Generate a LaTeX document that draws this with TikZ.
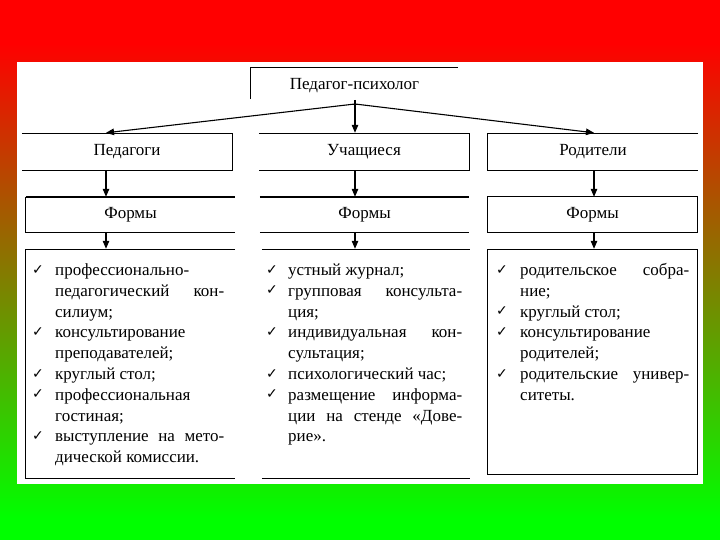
\documentclass[tikz,border=0pt]{standalone}
\usepackage{fontspec}
\setmainfont{Liberation Serif}
\newfontfamily\symfont{DejaVu Sans}
\usetikzlibrary{arrows.meta}
\pgfdeclareverticalshading{bgshade}{100bp}{color(0bp)=(green); color(27bp)=(green); color(71bp)=(red); color(100bp)=(red)}
\begin{document}
\begin{tikzpicture}[x=1pt,y=-1pt,
  ln/.style={font=\fontsize{17}{21}\selectfont, inner sep=0pt, anchor=base west},
  chk/.style={font=\symfont\fontsize{14}{16}\selectfont, inner sep=0pt, anchor=base},
  hd/.style={font=\fontsize{17}{21}\selectfont, inner sep=0pt, minimum height=36pt},
  edge/.style={line width=1.2pt},
  thk/.style={line width=2.2pt},
  arr/.style={line width=1.1pt, -{Triangle[length=8pt,width=6.5pt]}}]
\useasboundingbox (0,0) rectangle (720,540);
\shade[shading=bgshade] (0,0) rectangle (720,540);
\fill[white] (17,62) rectangle (703,484);

% top box
\node[hd, minimum width=207pt] (T) at (354.5,86) {Педагог-психолог};
\draw[edge] ([yshift=5pt]T.south west) -- (T.north west) -- (T.north east);

% row 2
\node[hd, minimum width=210pt] (P) at (127,152) {Педагоги};
\node[hd, minimum width=210pt] (U) at (364,152) {Учащиеся};
\node[hd, minimum width=210pt] (R) at (593,152) {Родители};
\draw[edge] (P.north west) -- (P.north east) -- (P.south east) -- (P.south west);
\draw[edge] (U.north west) -- (U.north east) -- (U.south east) -- (U.south west);
\draw[edge] (R.north east) -- (R.north west) -- (R.south west) -- (R.south east);

% row 3
\node[hd, minimum width=209pt, minimum height=35pt] (F1) at (130.5,214.5) {Формы};
\node[hd, minimum width=209pt, minimum height=35pt] (F2) at (364.5,214.5) {Формы};
\node[hd, minimum width=209pt, minimum height=35pt] (F3) at (592.5,214.5) {Формы};
\draw[thk] (F1.north west) -- (F1.north east);
\draw[edge] (F1.north west) -- (F1.south west) -- (F1.south east);
\draw[thk] (F2.north west) -- (F2.north east);
\draw[edge] (F2.south west) -- (F2.south east);
\draw[edge] (F3.north west) rectangle (F3.south east);

% row 4 frames
\node[minimum width=209pt, minimum height=228pt, inner sep=0pt] (L1) at (130.5,364) {};
\node[minimum width=208pt, minimum height=228pt, inner sep=0pt] (L2) at (366,364) {};
\node[minimum width=209pt, minimum height=224pt, inner sep=0pt] (L3) at (592.5,362) {};
\draw[edge] (L1.north east) -- (L1.north west) -- (L1.south west) -- (L1.south east);
\draw[edge] (L2.north west) -- (L2.north east);
\draw[edge] (L2.south west) -- (L2.south east);
\draw[edge] (L3.north west) rectangle (L3.south east);

% connectors
\coordinate (o) at (355,104);
\coordinate (ot) at (355,100);
\coordinate (xa) at (106,0);
\coordinate (xb) at (355,0);
\coordinate (xc) at (594,0);
\draw[line width=0.9pt] ([xshift=-3.5pt]o) -- ([xshift=3.5pt]o);
\draw[arr] (o) -- ([yshift=1pt]P.north -| xa);
\draw[arr] (ot) -- ([yshift=1pt]U.north -| xb);
\draw[arr] (o) -- ([yshift=1pt]R.north -| xc);
\draw[arr] (P.south -| xa) -- (F1.north -| xa);
\draw[arr] (U.south -| xb) -- (F2.north -| xb);
\draw[arr] (R.south -| xc) -- (F3.north -| xc);
\draw[arr] (F1.south -| xa) -- ([yshift=1pt]L1.north -| xa);
\draw[arr] (F2.south -| xb) -- ([yshift=1pt]L2.north -| xb);
\draw[arr] (F3.south -| xc) -- ([yshift=1pt]L3.north -| xc);

% list 1
\foreach \t/\j/\c [count=\k] in {
 {профессионально-}/0/1,
 {педагогический кон-}/1/0,
 {силиум;}/0/0,
 {консультирование}/0/1,
 {преподавателей;}/0/0,
 {круглый стол;}/0/1,
 {профессиональная}/0/1,
 {гостиная;}/0/0,
 {выступление на мето-}/1/1,
 {дической комиссии.}/0/0}
{
 \node[ln] (a\k) at (55,{275.5+20.8*(\k-1)}) {\ifnum\j=1 \makebox[169pt][s]{\t}\else\t\fi};
 \ifnum\c=1 \node[chk] (ca\k) at (38,{274+20.8*(\k-1)}) {✓};\fi
}

% list 2
\foreach \t/\j/\c [count=\k] in {
 {устный журнал;}/0/1,
 {групповая консульта-}/1/1,
 {ция;}/0/0,
 {индивидуальная кон-}/1/1,
 {сультация;}/0/0,
 {психологический час;}/0/1,
 {размещение информа-}/1/1,
 {ции на стенде «Дове-}/1/0,
 {рие».}/0/0}
{
 \node[ln] (b\k) at (288,{275.5+20.8*(\k-1)}) {\ifnum\j=1 \makebox[174pt][s]{\t}\else\t\fi};
 \ifnum\c=1 \node[chk] (cb\k) at (272,{274+20.8*(\k-1)}) {✓};\fi
}

% list 3
\foreach \t/\j/\c [count=\k] in {
 {родительское собра-}/1/1,
 {ние;}/0/0,
 {круглый стол;}/0/1,
 {консультирование}/0/1,
 {родителей;}/0/0,
 {родительские универ-}/1/1,
 {ситеты.}/0/0}
{
 \node[ln] (r\k) at (520,{275.5+20.8*(\k-1)}) {\ifnum\j=1 \makebox[169pt][s]{\t}\else\t\fi};
 \ifnum\c=1 \node[chk] (cr\k) at (502,{274+20.8*(\k-1)}) {✓};\fi
}
\end{tikzpicture}
\end{document}
